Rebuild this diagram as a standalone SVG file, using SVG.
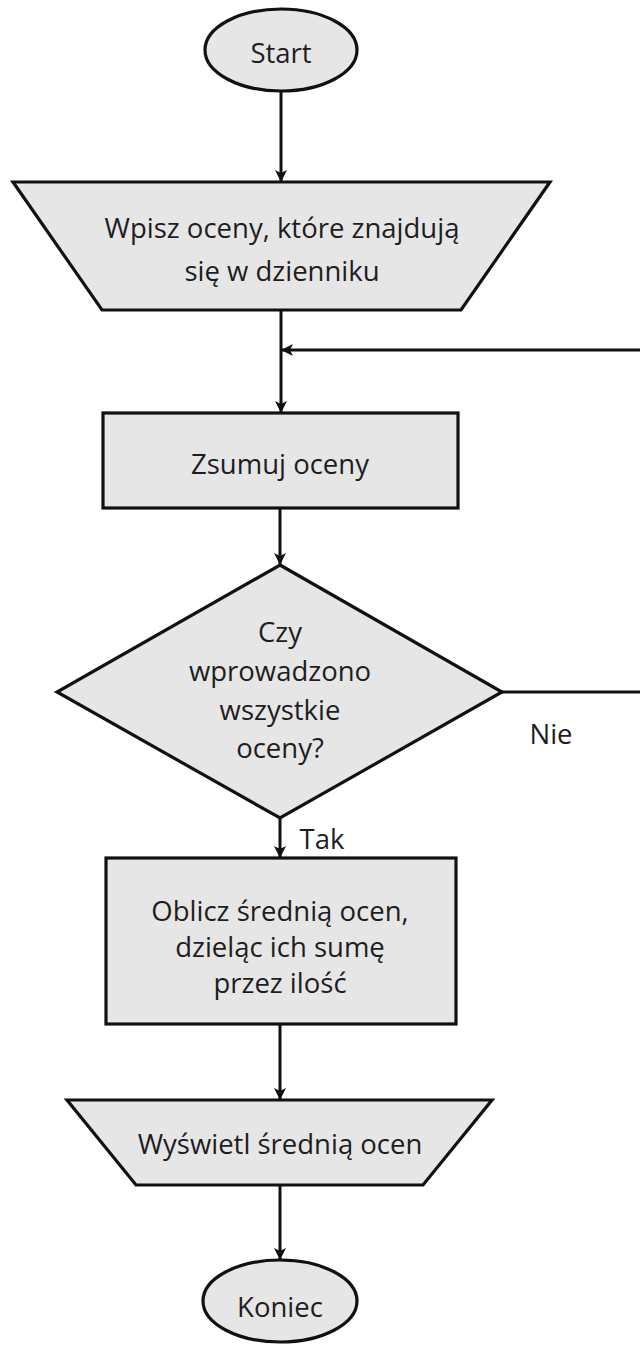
<svg xmlns="http://www.w3.org/2000/svg" width="640" height="1345" viewBox="0 0 640 1345">
  <defs>
    <style>
      .shape { fill: #e6e6e6; stroke: #111; stroke-width: 3.2; stroke-linejoin: miter; }
      .line { fill: none; stroke: #111; stroke-width: 3; }
      .label { font-family: "Open Sans", "Noto Sans", sans-serif; font-size: 27.5px; fill: #1e1e1e; text-anchor: middle; dominant-baseline: central; }
    </style>
    <marker id="arrow" viewBox="0 0 12 12" refX="11" refY="6" markerWidth="12" markerHeight="12" markerUnits="userSpaceOnUse" orient="auto">
      <path d="M0,0 L12,6 L0,12 L3,6 z" fill="#111"/>
    </marker>
  </defs>
  <rect width="640" height="1345" fill="#ffffff"/>

  <g id="connectors">
    <path class="line" d="M281,91 V181" marker-end="url(#arrow)"/>
    <path class="line" d="M281,310 V412" marker-end="url(#arrow)"/>
    <path class="line" d="M502,692 H650 V350 H282" marker-end="url(#arrow)"/>
    <path class="line" d="M280,508 V564" marker-end="url(#arrow)"/>
    <path class="line" d="M280,818 V857" marker-end="url(#arrow)"/>
    <path class="line" d="M280,1024 V1099" marker-end="url(#arrow)"/>
    <path class="line" d="M280,1185 V1259" marker-end="url(#arrow)"/>
    <text class="label" x="551" y="733">Nie</text>
    <text class="label" x="322" y="838">Tak</text>
  </g>

  <g id="start">
    <ellipse class="shape" cx="281" cy="50" rx="76" ry="41"/>
    <text class="label" x="281" y="52">Start</text>
  </g>

  <g id="input-grades">
    <polygon class="shape" points="13,182 550,182 461,310 102,310"/>
    <text class="label" x="282" y="227">Wpisz oceny, które znajdują</text>
    <text class="label" x="282" y="270">się w dzienniku</text>
  </g>

  <g id="sum-grades">
    <rect class="shape" x="103" y="413" width="355" height="95"/>
    <text class="label" x="280" y="463">Zsumuj oceny</text>
  </g>

  <g id="all-entered">
    <polygon class="shape" points="280,565 502,692 280,818 57,692"/>
    <text class="label" x="280" y="631">Czy</text>
    <text class="label" x="280" y="670">wprowadzono</text>
    <text class="label" x="280" y="709">wszystkie</text>
    <text class="label" x="280" y="747">oceny?</text>
  </g>

  <g id="compute-average">
    <rect class="shape" x="106" y="858" width="350" height="166"/>
    <text class="label" x="280" y="910">Oblicz średnią ocen,</text>
    <text class="label" x="280" y="946">dzieląc ich sumę</text>
    <text class="label" x="280" y="982">przez ilość</text>
  </g>

  <g id="show-average">
    <polygon class="shape" points="67,1100 492,1100 423,1185 136,1185"/>
    <text class="label" x="280" y="1143">Wyświetl średnią ocen</text>
  </g>

  <g id="end">
    <ellipse class="shape" cx="280" cy="1301" rx="77" ry="41"/>
    <text class="label" x="280" y="1306">Koniec</text>
  </g>
</svg>
